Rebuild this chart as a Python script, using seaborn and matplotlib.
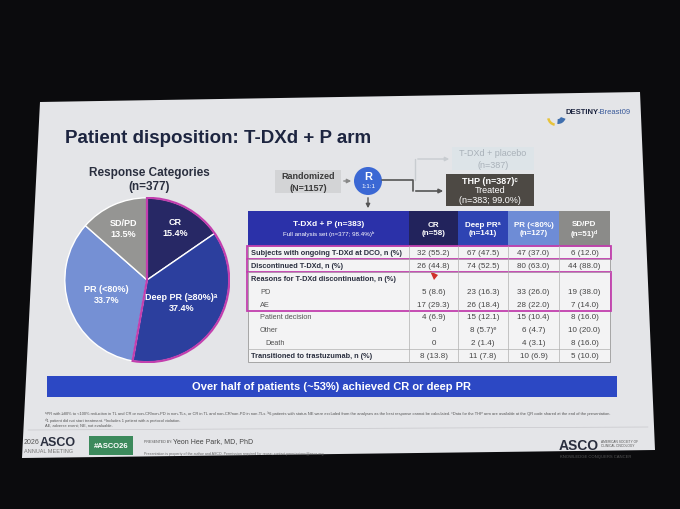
import matplotlib
matplotlib.use("Agg")
import matplotlib.pyplot as plt
from matplotlib.patches import Rectangle, Polygon, Wedge, Circle
import numpy as np
import seaborn as sns

# ----- dati -----
pie_title = "Response Categories\n(n=377)"
categories = ["CR", "Deep PR (≥80%)ᵃ", "PR (<80%)", "SD/PD"]
shares = [15.4, 37.4, 33.7, 13.5]

header_labels = ["CR\n(n=58)", "Deep PRᵃ\n(n=141)", "PR (<80%)\n(n=127)", "SD/PD\n(n=51)ᵈ"]
row_labels = ["Subjects with ongoing T-DXd at DCO, n (%)", "Discontinued T-DXd, n (%)",
              "Reasons for T-DXd discontinuation, n (%)", "PD", "AE", "Patient decision",
              "Other", "Death", "Transitioned to trastuzumab, n (%)"]
cr_vals = ["32 (55.2)", "26 (44.8)", "", "5 (8.6)", "17 (29.3)", "4 (6.9)", "0", "0", "8 (13.8)"]
deep_vals = ["67 (47.5)", "74 (52.5)", "", "23 (16.3)", "26 (18.4)", "15 (12.1)", "8 (5.7)ᵉ", "2 (1.4)", "11 (7.8)"]
pr_vals = ["47 (37.0)", "80 (63.0)", "", "33 (26.0)", "28 (22.0)", "15 (10.4)", "6 (4.7)", "4 (3.1)", "10 (6.9)"]
sd_vals = ["6 (12.0)", "44 (88.0)", "", "19 (38.0)", "7 (14.0)", "8 (16.0)", "10 (20.0)", "8 (16.0)", "5 (10.0)"]

sns.set_theme(style="white")
plt.rcParams['font.family'] = ['Liberation Sans', 'DejaVu Sans']

# colori
navy = "#1d2540"
pal = ["#272865", "#2c3f9e", "#7590d4", "#959593"]
head_cols = ["#2b31a9", "#22235c", "#2e44b3", "#6e8cd6", "#8b8b89"]
magenta = "#c23fae"

fig = plt.figure(figsize=(6.8, 5.1), dpi=100)
fig.patch.set_facecolor("#0b0b0d")
ax = fig.add_axes([0, 0, 1, 1])
ax.set_xlim(0, 680)
ax.set_ylim(510, 0)
ax.axis("off")

# ----- slide -----
ax.add_patch(Polygon([(40, 103), (640, 93), (655, 451), (22, 459)], closed=True,
                     fc="#e4e5e8", ec="none"))

ax.text(65, 139, "Patient disposition: T-DXd + P arm", fontsize=13.5, fontweight="bold",
        color=navy, va="center")

# logo DESTINY
ax.add_patch(Wedge((556, 118), 9, 100, 170, width=2.5, fc="#e8c33a", ec="none"))
ax.add_patch(Wedge((558, 117), 8, 20, 95, width=5, fc="#3f6fae", ec="none"))
ax.text(565, 113, "DESTINY", fontsize=5.5, fontweight="bold", color=navy, va="center")
ax.text(598, 113, "-Breast09", fontsize=5.5, color="#3a5a9a", va="center")

# ----- torta -----
ax.text(149, 180, pie_title, fontsize=8.5, fontweight="bold", color="#2a2f3f",
        ha="center", va="center", linespacing=1.25)
cx, cy, r = 147, 281, 83
pax = fig.add_axes([(cx - r) / 680, (510 - cy - r) / 510, 2 * r / 680, 2 * r / 510])
wedges, _ = pax.pie(shares, colors=pal, startangle=90, counterclock=False,
                    wedgeprops=dict(edgecolor="white", linewidth=1.0))
pax.add_patch(Wedge((0, 0), 1.0, wedges[1].theta1, wedges[0].theta2, fill=False,
                    ec=magenta, lw=1.6))
label_r = [0.73, 0.5, 0.52, 0.7]
for w, cat, val, lr in zip(wedges, categories, shares, label_r):
    ang = np.deg2rad((w.theta1 + w.theta2) / 2)
    pax.text(lr * np.cos(ang), lr * np.sin(ang), f"{cat}\n{val}%", color="white",
             fontsize=6.5, fontweight="bold", ha="center", va="center", linespacing=1.3)
pax.set_xlim(-1.01, 1.01)
pax.set_ylim(-1.01, 1.01)
pax.set_aspect("equal")

# ----- schema randomizzazione -----
ax.add_patch(Rectangle((275, 171), 66, 23, fc="#d3d4d6", ec="none"))
ax.text(308, 182.5, "Randomized\n(N=1157)", fontsize=6.5, fontweight="bold", color="#3a3a3a",
        ha="center", va="center", linespacing=1.3)
ax.annotate("", xy=(354, 182), xytext=(341, 182),
            arrowprops=dict(arrowstyle="-|>", color="#888888", lw=1, mutation_scale=6))
ax.add_patch(Circle((368, 182), 14, fc="#3b68d4", ec="none"))
ax.text(368, 177, "R", fontsize=8, fontweight="bold", color="white", ha="center", va="center")
ax.text(368, 187, "1:1:1", fontsize=4.5, color="white", ha="center", va="center")
ax.annotate("", xy=(368, 212), xytext=(368, 196),
            arrowprops=dict(arrowstyle="-|>", color="#555555", lw=1, mutation_scale=6))
ax.plot([382, 413, 413], [181, 181, 192], color="#555555", lw=1.2)
ax.annotate("", xy=(446, 192), xytext=(413, 192),
            arrowprops=dict(arrowstyle="-|>", color="#555555", lw=1.2, mutation_scale=6))
ax.plot([415, 415], [181, 160], color="#c8ccd0", lw=1)
ax.annotate("", xy=(452, 160), xytext=(415, 160),
            arrowprops=dict(arrowstyle="-|>", color="#c8ccd0", lw=1, mutation_scale=6))
ax.add_patch(Rectangle((452, 148), 82, 23, fc="#dde4e8", ec="none"))
ax.text(493, 159.5, "T-DXd + placebo\n(n=387)", fontsize=6.5, color="#a9b1b9",
        ha="center", va="center", linespacing=1.3)
ax.add_patch(Rectangle((446, 175), 88, 32, fc="#4d4944", ec="none"))
ax.text(490, 182, "THP (n=387)ᶜ", fontsize=6.5, fontweight="bold", color="white",
        ha="center", va="center")
ax.text(490, 195.5, "Treated\n(n=383; 99.0%)", fontsize=6.5, color="white",
        ha="center", va="center", linespacing=1.2)

# ----- tabella -----
col_edges = [248, 409, 458, 508, 559, 610]
head_top, head_bot = 212, 247
row_h = 12.9
ax.add_patch(Rectangle((col_edges[0], head_bot), col_edges[-1] - col_edges[0],
                       row_h * len(row_labels), fc="#f3f3f4", ec="#9a9a9a", lw=0.6))
for i in range(5):
    ax.add_patch(Rectangle((col_edges[i], head_top), col_edges[i + 1] - col_edges[i],
                           head_bot - head_top, fc=head_cols[i], ec="none"))
ax.text((col_edges[0] + col_edges[1]) / 2, 225, "T-DXd + P (n=383)", fontsize=6,
        fontweight="bold", color="white", ha="center", va="center")
ax.text((col_edges[0] + col_edges[1]) / 2, 234, "Full analysis set (n=377; 98.4%)ᵇ",
        fontsize=4.5, color="white", ha="center", va="center")
for i, lab in enumerate(header_labels):
    xc = (col_edges[i + 1] + col_edges[i + 2]) / 2
    ax.text(xc, 229.5, lab, fontsize=5.8, fontweight="bold", color="white",
            ha="center", va="center", linespacing=1.3)

for xe in col_edges[1:-1]:
    ax.plot([xe, xe], [head_bot, head_bot + row_h * len(row_labels)], color="#b0b0b0", lw=0.5)
for k in [1, 2, 8]:
    yy = head_bot + k * row_h
    ax.plot([col_edges[0], col_edges[-1]], [yy, yy], color="#b0b0b0", lw=0.5)

indent = {"PD": 9, "AE": 9, "Patient decision": 9, "Other": 9, "Death": 14}
for j, lab in enumerate(row_labels):
    yc = head_bot + (j + 0.5) * row_h
    bold = lab not in indent
    ax.text(col_edges[0] + 3 + indent.get(lab, 0), yc, lab, fontsize=5.3,
            fontweight="bold" if bold else "normal", color="#2a2f3f" if bold else "#555555",
            va="center")
    for i, vals in enumerate([cr_vals, deep_vals, pr_vals, sd_vals]):
        xc = (col_edges[i + 1] + col_edges[i + 2]) / 2
        ax.text(xc, yc, vals[j], fontsize=5.8, color="#444444", ha="center", va="center")

# riquadri magenta
ax.add_patch(Rectangle((col_edges[0] - 1, head_bot), col_edges[-1] - col_edges[0] + 2, row_h,
                       fill=False, ec=magenta, lw=1.3))
ax.add_patch(Rectangle((col_edges[0] - 1, head_bot + 2 * row_h), col_edges[-1] - col_edges[0] + 2,
                       3 * row_h, fill=False, ec=magenta, lw=1.3))
ax.plot([col_edges[0] - 1, col_edges[0] - 1], [head_bot + row_h, head_bot + 2 * row_h],
        color=magenta, lw=1.3)

# puntatore laser
ax.add_patch(Polygon([(430, 272), (438, 276), (434, 281)], closed=True, fc="#d0302a", ec="none"))

# ----- banner e note -----
ax.add_patch(Rectangle((47, 377), 570, 21, fc="#2c48c4", ec="none"))
ax.text(332, 387.5, "Over half of patients (~53%) achieved CR or deep PR", fontsize=8,
        fontweight="bold", color="white", ha="center", va="center")
notes = ("ᵃPR with ≥80% to <100% reduction in TL and CR or non-CR/non-PD in non-TLs, or CR in TL and non-CR/non-PD in non-TLs. "
         "ᵇ6 patients with status NE were excluded from the analyses as the best response cannot be calculated. "
         "ᶜData for the THP arm are available at the QR code shared at the end of the presentation.\n"
         "ᵈ1 patient did not start treatment. ᵉIncludes 1 patient with a protocol violation.\n"
         "AE, adverse event; NE, not evaluable.")
ax.text(45, 411, notes, fontsize=2.85, color="#555555", va="top", linespacing=1.4)
ax.plot([28, 648], [431, 428], color="#c8c8cc", lw=0.5)

# ----- footer -----
ax.text(24, 443, "2026", fontsize=5, color="#555555", va="center")
ax.text(40, 443, "ASCO", fontsize=9, fontweight="bold", color="#2a2f3f", va="center")
ax.text(24, 452, "ANNUAL MEETING", fontsize=4, color="#777777", va="center")
ax.add_patch(Rectangle((89, 437), 44, 19, fc="#3c8a5c", ec="none"))
ax.text(111, 446.5, "#ASCO26", fontsize=5.5, fontweight="bold", color="white",
        ha="center", va="center")
ax.text(144, 442, "PRESENTED BY:", fontsize=2.6, color="#555555", va="center")
ax.text(173, 442, "Yeon Hee Park, MD, PhD", fontsize=5, color="#444444", va="center")
ax.text(144, 454, "Presentation is property of the author and ASCO. Permission required for reuse; contact permissions@asco.org",
        fontsize=2.6, color="#666666", va="center")
ax.text(559, 446, "ASCO", fontsize=10, fontweight="bold", color="#2a2f3f", va="center")
ax.text(601, 444, "AMERICAN SOCIETY OF\nCLINICAL ONCOLOGY", fontsize=2.3, color="#555555",
        va="center", linespacing=1.3)
ax.text(560, 457, "KNOWLEDGE CONQUERS CANCER", fontsize=3, color="#555555", va="center")

fig.savefig("out.png", dpi=100, facecolor=fig.get_facecolor())
